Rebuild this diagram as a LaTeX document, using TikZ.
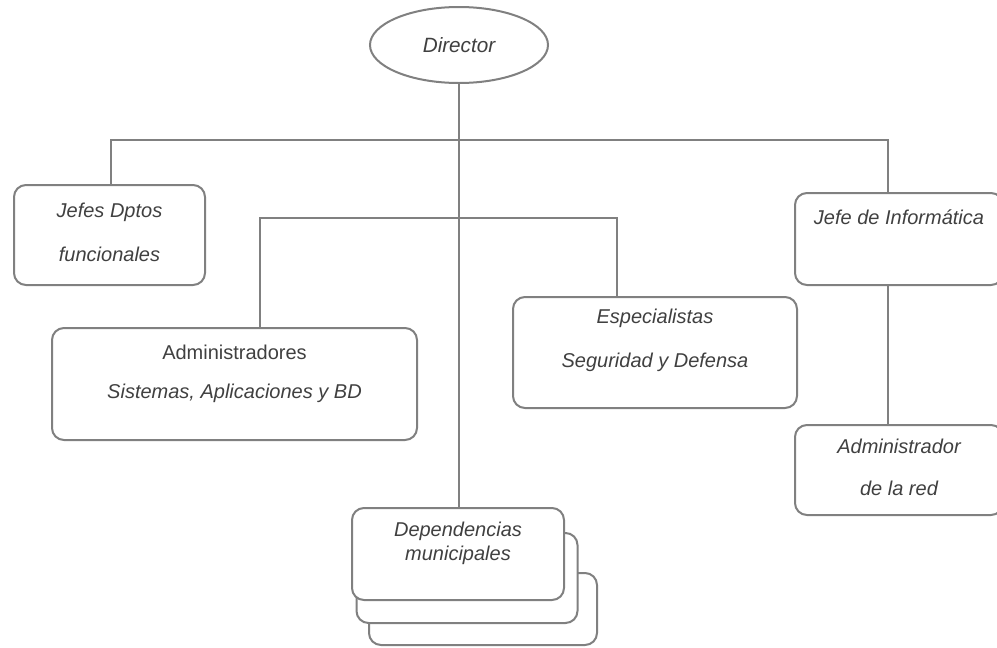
\documentclass[tikz,border=0pt]{standalone}
\usepackage{fontspec}
\setmainfont{Liberation Sans}
\usetikzlibrary{shapes.geometric}

\definecolor{linegray}{gray}{0.5}
\definecolor{textgray}{gray}{0.25}

\tikzset{
	box/.style={rectangle,draw=linegray,line width=1.5pt,rounded corners=9pt,fill=white},
	boss/.style={ellipse,draw=linegray,line width=1.5pt,fill=white,minimum width=133.5pt,minimum height=57pt,inner sep=0pt},
	txt/.style={font=\fontsize{15}{18}\selectfont\itshape,text=textgray,align=center},
	uptxt/.style={txt,font=\fontsize{15}{18}\selectfont},
	link/.style={draw=linegray,line width=1.5pt}
}

\begin{document}
\begin{tikzpicture}[x=.75pt,y=-.75pt]
				\useasboundingbox[fill=white] (0,0) rectangle (997,647);

				% dependencias (stacked, back to front)
				\node[box,minimum width=171pt,minimum height=54pt] (dep3) at (483,609) {};
				\node[box,minimum width=165.75pt,minimum height=67.5pt] (dep2) at (467,578) {};
				\node[box,minimum width=159pt,minimum height=69pt] (dep1) at (458,554) {};
				\node[txt] (depT) at ([yshift=7.9pt]dep1.center) {Dependencias\\municipales};

				% director
				\node[boss,font=\fontsize{15.5}{18}\selectfont\itshape,text=textgray] (dir) at (459,45) {Director};

				% first level
				\node[box,minimum width=143.25pt,minimum height=75pt] (jefes) at (109.5,235) {};
				\node[txt] (jefesT) at ([yshift=1.9pt]jefes.center) {Jefes Dptos\\[15.5pt]funcionales};
				\node[box,minimum width=156pt,minimum height=69pt] (info) at (899,239) {};
				\node[txt] (infoT) at ([yshift=16.5pt]info.center) {Jefe de Inform\'atica};

				% second level
				\node[box,minimum width=273.75pt,minimum height=84pt] (admin) at (234.5,384) {};
				\node[uptxt] (adminT) at ([yshift=24pt]admin.center) {Administradores};
				\node[txt] (adminS) at ([yshift=-30.75pt]adminT.center) {Sistemas, Aplicaciones y BD};
				\node[box,minimum width=213pt,minimum height=83.25pt] (espec) at (655,352.5) {};
				\node[txt] (especT) at ([yshift=9.4pt]espec.center) {Especialistas\\[15pt]Seguridad y Defensa};
				\node[box,minimum width=156pt,minimum height=67.5pt] (red) at (899,470) {};
				\node[txt] (redT) at ([yshift=2.3pt]red.center) {Administrador\\[13.5pt]de la red};

				% bus points
				\coordinate (bus1) at (459,140);
				\coordinate (ibus) at (888,140);
				\coordinate (abus) at (260,218);
				\coordinate (ebus) at (617,218);

				% director -> dependencias
				\draw[link] (dir.south) -- (dir.south |- dep1.north);

				% top bar
				\draw[link] (jefes.north -| 111,0) |- (bus1) -- (ibus) -- (ibus |- info.north);

				% second bar
				\draw[link] (abus |- admin.north) -- (abus) -- (ebus) -- (ebus |- espec.north);

				% informatica -> red
				\draw[link] (info.south -| ibus) -- (ibus |- red.north);
\end{tikzpicture}
\end{document}
